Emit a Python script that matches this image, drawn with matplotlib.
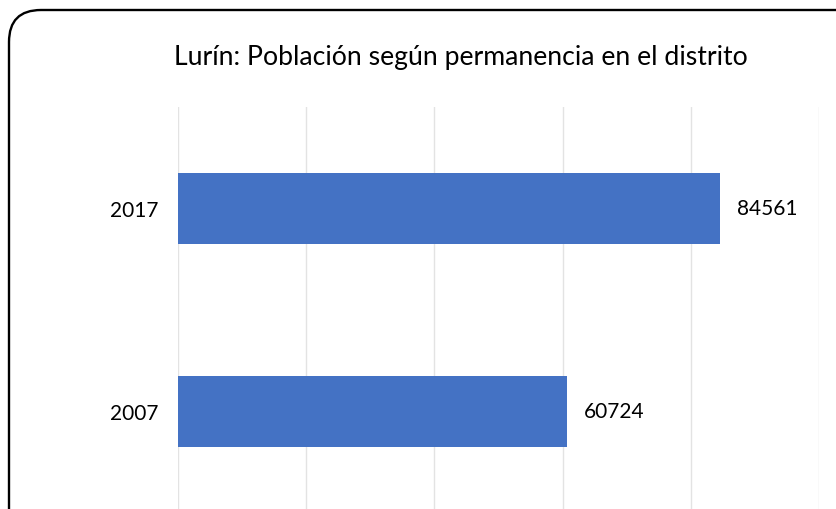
import matplotlib.pyplot as plt
from matplotlib.patches import FancyBboxPatch
from matplotlib.transforms import IdentityTransform

years = ['2007', '2017']
poblacion = [60724, 84561]

plt.rcParams['font.family'] = ['Lato', 'DejaVu Sans']

fig = plt.figure(figsize=(8.36, 5.09), dpi=100)
ax = fig.add_axes([0.2129, -0.0079, 0.7667, 0.7976])

ax.barh(years, poblacion, height=0.35, color='#4472C4', zorder=3)
ax.set_xlim(0, 100000)
ax.set_ylim(-0.5, 1.5)
ax.set_xticks(range(0, 100001, 20000))
ax.set_xticklabels([])
ax.tick_params(axis='x', length=0)
ax.tick_params(axis='y', length=0, pad=14, labelsize=15)
ax.grid(axis='x', color='#e3e3e3', linewidth=1, zorder=0)
for s in ax.spines.values():
    s.set_visible(False)

for i, v in enumerate(poblacion):
    ax.annotate(str(v), (v, i), xytext=(12, 0), textcoords='offset points',
                va='center', ha='left', fontsize=15)

fig.text(0.551, 0.888, 'Lurín: Población según permanencia en el distrito',
         ha='center', va='center', fontsize=19.2)

border = FancyBboxPatch((9, -40), 860, 539, boxstyle='round,pad=0,rounding_size=32',
                        transform=IdentityTransform(), fill=False,
                        edgecolor='black', linewidth=1.7)
fig.patches.append(border)

fig.savefig('out.png', dpi=100)
